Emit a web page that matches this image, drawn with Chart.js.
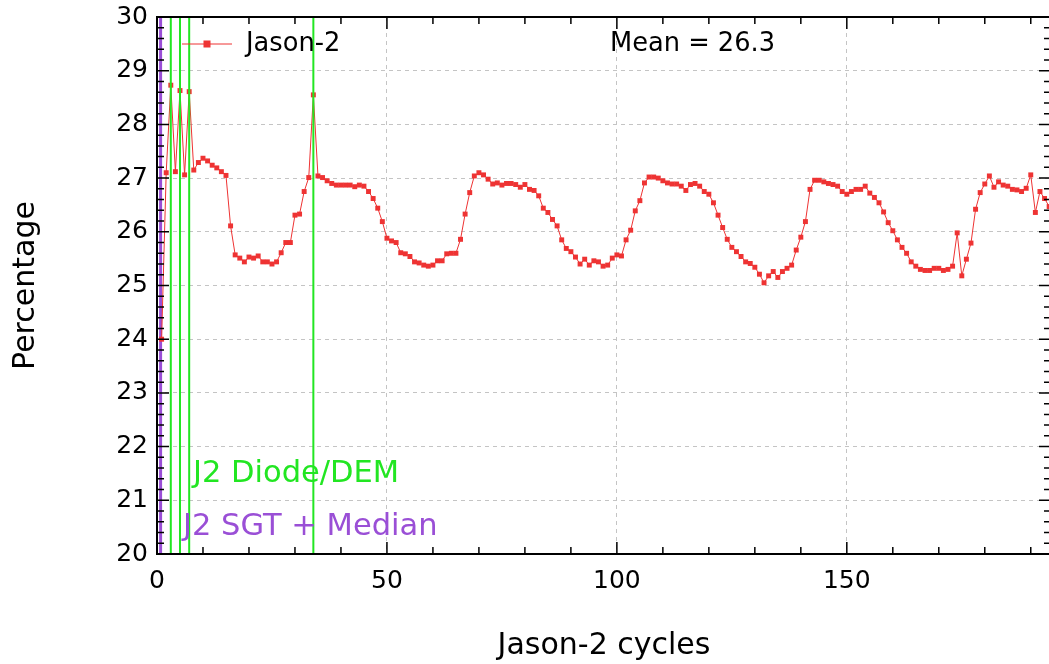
<!DOCTYPE html>
<html><head><meta charset="utf-8">
<script src="https://cdn.jsdelivr.net/npm/chart.js@4.4.1/dist/chart.umd.min.js"></script>
<style>html,body{margin:0;padding:0;background:#fff;overflow:hidden}#wrap{width:1049px;height:664px;position:relative;overflow:hidden}</style>
</head><body><div id="wrap"><canvas id="c" width="1051" height="664"></canvas></div>
<script>
const cycles = [1,2,3,4,5,6,7,8,9,10,11,12,13,14,15,16,17,18,19,20,21,22,23,24,25,26,27,28,29,30,
31,32,33,34,35,36,37,38,39,40,41,42,43,44,45,46,47,48,49,50,51,52,53,54,55,56,57,58,59,60,
61,62,63,64,65,66,67,68,69,70,71,72,73,74,75,76,77,78,79,80,81,82,83,84,85,86,87,88,89,90,
91,92,93,94,95,96,97,98,99,100,101,102,103,104,105,106,107,108,109,110,111,112,113,114,115,116,117,118,119,120,
121,122,123,124,125,126,127,128,129,130,131,132,133,134,135,136,137,138,139,140,141,142,143,144,145,146,147,148,149,150,
151,152,153,154,155,156,157,158,159,160,161,162,163,164,165,166,167,168,169,170,171,172,173,174,175,176,177,178,179,180,
181,182,183,184,185,186,187,188,189,190,191,192,193,194];
const jason2 = [24.00,27.10,28.73,27.12,28.63,27.06,28.61,27.15,27.29,27.37,27.32,27.24,27.19,27.12,27.05,26.11,25.57,25.51,25.44,25.53,
25.51,25.55,25.44,25.44,25.40,25.44,25.61,25.80,25.80,26.31,26.33,26.75,27.01,28.55,27.04,27.01,26.95,26.90,26.87,26.87,
26.87,26.87,26.84,26.87,26.85,26.75,26.62,26.44,26.19,25.88,25.83,25.80,25.61,25.59,25.54,25.44,25.42,25.38,25.36,25.38,
25.46,25.46,25.59,25.60,25.60,25.86,26.33,26.73,27.04,27.10,27.06,26.98,26.89,26.91,26.87,26.90,26.90,26.88,26.83,26.88,
26.79,26.77,26.67,26.44,26.36,26.23,26.11,25.85,25.69,25.63,25.53,25.40,25.49,25.38,25.46,25.44,25.36,25.38,25.51,25.57,
25.55,25.85,26.03,26.39,26.58,26.91,27.02,27.02,27.00,26.95,26.91,26.89,26.89,26.85,26.77,26.88,26.90,26.85,26.75,26.70,
26.54,26.31,26.08,25.86,25.71,25.63,25.54,25.44,25.41,25.34,25.21,25.05,25.18,25.26,25.15,25.26,25.32,25.38,25.66,25.90,
26.19,26.79,26.96,26.96,26.93,26.90,26.88,26.85,26.75,26.70,26.75,26.79,26.79,26.85,26.72,26.64,26.54,26.37,26.17,26.02,
25.85,25.71,25.60,25.44,25.36,25.30,25.28,25.28,25.32,25.32,25.28,25.30,25.36,25.98,25.18,25.49,25.79,26.42,26.73,26.89,
27.04,26.83,26.93,26.87,26.85,26.79,26.78,26.75,26.81,27.06,26.36,26.75,26.62,26.47];
const xTickValues = [0,50,100,150];
const yTickValues = [20,21,22,23,24,25,26,27,28,29,30];
const diodeDemCycles = [3,5,7,34];
const sgtMedianCycles = [1];
const seriesLabel = 'Jason-2';
const meanLabel = 'Mean = 26.3';
const diodeLabel = 'J2 Diode/DEM';
const sgtLabel = 'J2 SGT + Median';

const FONT = "'DejaVu Sans', 'Liberation Sans', sans-serif";
const RED = '#ee3333';
const GREEN = '#22e622';
const PURPLE = '#9a4fd6';

function noPad(s) { s.paddingTop = 0; s.paddingBottom = 0; s.paddingLeft = 0; s.paddingRight = 0; }

const overlay = {
  id: 'overlay',
  beforeDatasetsDraw(chart) {
    const {ctx, chartArea: a, scales: {x}} = chart;
    ctx.save();
    ctx.lineWidth = 3;
    ctx.strokeStyle = PURPLE;
    sgtMedianCycles.forEach(c => {
      const px = x.getPixelForValue(c) - 1;
      ctx.beginPath(); ctx.moveTo(px, a.top); ctx.lineTo(px, a.bottom); ctx.stroke();
    });
    ctx.restore();
  },
  afterDatasetsDraw(chart) {
    const {ctx, chartArea: a, scales: {x, y}} = chart;
    ctx.save();
    ctx.lineWidth = 2;
    ctx.strokeStyle = GREEN;
    diodeDemCycles.forEach(c => {
      const px = x.getPixelForValue(c);
      ctx.beginPath(); ctx.moveTo(px, a.top); ctx.lineTo(px, a.bottom); ctx.stroke();
    });
    // frame
    ctx.strokeStyle = '#000';
    ctx.lineWidth = 2;
    ctx.strokeRect(a.left, a.top, a.right - a.left, a.bottom - a.top);
    // ticks
    ctx.lineWidth = 1.5;
    ctx.beginPath();
    for (let v = 0; v <= x.max; v += 10) {
      const px = x.getPixelForValue(v);
      const len = (v % 50 === 0) ? 12 : 7;
      ctx.moveTo(px, a.bottom); ctx.lineTo(px, a.bottom - len);
      ctx.moveTo(px, a.top); ctx.lineTo(px, a.top + len);
    }
    for (let i = 0; i <= 50; i++) {
      const v = 20 + i * 0.2;
      const py = y.getPixelForValue(v);
      const len = (i % 5 === 0) ? 12 : 7;
      ctx.moveTo(a.left, py); ctx.lineTo(a.left + len, py);
      ctx.moveTo(a.right, py); ctx.lineTo(a.right - len, py);
    }
    ctx.stroke();
    // legend
    const ly = 44;
    ctx.strokeStyle = RED; ctx.lineWidth = 1;
    ctx.beginPath(); ctx.moveTo(a.left + 25, ly); ctx.lineTo(a.left + 75, ly); ctx.stroke();
    ctx.fillStyle = RED;
    ctx.fillRect(a.left + 50 - 3.5, ly - 3.5, 7, 7);
    ctx.fillStyle = '#000';
    ctx.font = '25.7px ' + FONT;
    ctx.textBaseline = 'middle';
    ctx.textAlign = 'left';
    ctx.fillText(seriesLabel, a.left + 89, ly);
    ctx.fillText(meanLabel, 610, ly);
    // annotations
    ctx.font = '30.5px ' + FONT;
    ctx.fillStyle = GREEN;
    ctx.fillText(diodeLabel, 193, 474);
    ctx.fillStyle = PURPLE;
    ctx.fillText(sgtLabel, 183, 527);
    ctx.restore();
  }
};

new Chart(document.getElementById('c'), {
  type: 'line',
  data: {
    datasets: [{
      label: seriesLabel,
      data: cycles.map((c, i) => ({x: c, y: jason2[i]})),
      borderColor: RED,
      backgroundColor: RED,
      borderWidth: 1,
      pointStyle: 'rect',
      pointRadius: 3.5,
      pointBorderWidth: 0,
      pointBackgroundColor: RED,
      tension: 0
    }]
  },
  options: {
    responsive: false,
    animation: false,
    devicePixelRatio: 1,
    layout: {autoPadding: false, padding: {top: 17, right: 0, left: 0, bottom: 0}},
    plugins: {legend: {display: false}, tooltip: {enabled: false}},
    scales: {
      x: {
        type: 'linear', min: 0, max: 194.4,
        afterBuildTicks: s => { s.ticks = xTickValues.map(v => ({value: v})); },
        afterFit: s => { s.height = 110; noPad(s); },
        grid: {color: '#c4c4c4', lineWidth: 1, drawTicks: false},
        border: {display: false, dash: [4, 4]},
        ticks: {font: {size: 25, family: FONT}, color: '#000', padding: 12, maxRotation: 0, autoSkip: false},
        title: {display: true, text: 'Jason-2 cycles', font: {size: 30, family: FONT}, color: '#000', padding: {top: 0, bottom: 0}}
      },
      y: {
        type: 'linear', min: 20, max: 30,
        afterBuildTicks: s => { s.ticks = yTickValues.map(v => ({value: v})); },
        afterFit: s => { s.width = 157; noPad(s); },
        grid: {color: '#c4c4c4', lineWidth: 1, drawTicks: false},
        border: {display: false, dash: [4, 4]},
        ticks: {font: {size: 25, family: FONT}, color: '#000', padding: 9, autoSkip: false},
        title: {display: true, text: 'Percentage', font: {size: 30, family: FONT}, color: '#000', padding: {top: 8, bottom: 0}}
      }
    }
  },
  plugins: [overlay]
});
</script>
</body></html>
